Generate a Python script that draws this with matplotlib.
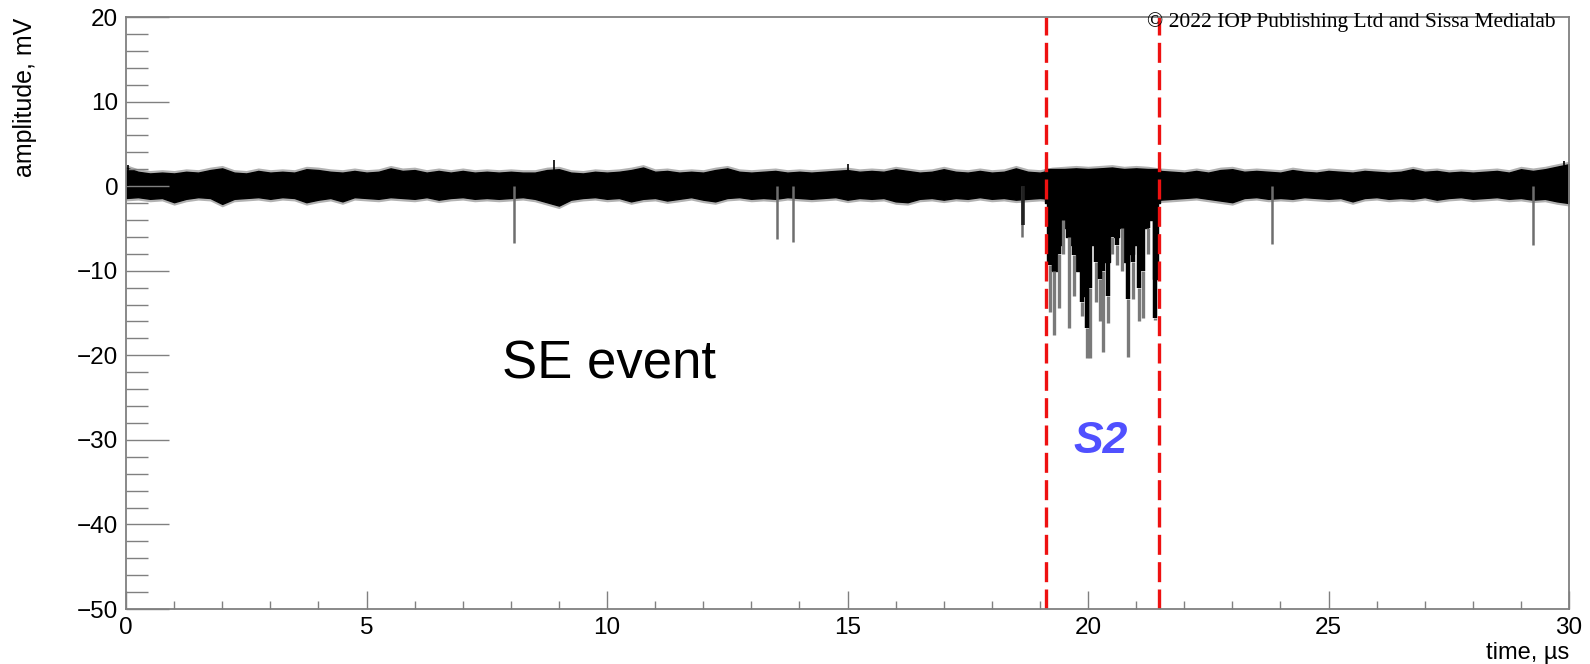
import numpy as np
import matplotlib
matplotlib.use("Agg")
from matplotlib import pyplot as plt

# noise band of the trace, read every 0.25 us (mV)
band_hi = [2.2, 1.7, 1.5, 1.6, 1.5, 1.7, 1.6, 1.9, 2.1, 1.6, 1.5, 1.8, 1.6, 1.7, 1.6, 2.0,
           1.9, 1.7, 1.6, 1.8, 1.6, 1.7, 2.1, 1.8, 1.9, 1.6, 1.8, 1.6, 1.8, 1.6, 1.7, 1.6,
           1.7, 1.6, 1.6, 1.9, 2.0, 1.6, 1.5, 1.7, 1.6, 1.7, 1.9, 2.2, 1.7, 1.8, 1.6, 1.7,
           1.6, 1.9, 2.1, 1.7, 1.6, 1.7, 1.8, 1.6, 1.7, 1.6, 1.7, 1.8, 1.9, 1.7, 1.8, 1.7,
           2.0, 1.8, 1.6, 1.7, 2.0, 1.7, 1.6, 1.8, 1.6, 1.7, 2.1, 1.7, 1.6, 1.9, 2.0, 2.1,
           2.0, 2.1, 2.2, 2.0, 2.1, 2.0, 1.8, 1.7, 1.6, 1.8, 1.6, 1.9, 2.0, 1.7, 1.8, 1.7,
           1.6, 1.9, 1.7, 1.6, 1.8, 1.7, 1.6, 1.8, 1.7, 1.6, 1.7, 2.0, 1.7, 1.8, 1.6, 1.7,
           1.6, 1.7, 1.8, 1.6, 2.0, 1.8, 2.0, 2.3, 2.6]
band_lo = [-1.4, -1.3, -1.5, -1.4, -1.9, -1.5, -1.3, -1.4, -2.1, -1.5, -1.4, -1.3, -1.5, -1.3, -1.4, -1.9,
           -1.6, -1.4, -1.8, -1.3, -1.4, -1.5, -1.3, -1.4, -1.5, -1.3, -1.6, -1.4, -1.3, -1.5, -1.4, -1.5,
           -1.4, -1.3, -1.5, -1.9, -2.3, -1.6, -1.4, -1.3, -1.5, -1.4, -1.8, -1.5, -1.4, -1.7, -1.5, -1.3,
           -1.6, -1.8, -1.4, -1.3, -1.5, -1.4, -1.5, -1.3, -1.4, -1.5, -1.4, -1.3, -1.6, -1.4, -1.5, -1.4,
           -1.8, -1.9, -1.5, -1.4, -1.6, -1.4, -1.5, -1.3, -1.5, -1.4, -1.6, -1.5, -1.4, -1.5, -1.5, -1.5,
           -1.5, -1.5, -1.5, -1.5, -1.5, -1.5, -1.6, -1.5, -1.4, -1.3, -1.5, -1.7, -1.9, -1.4, -1.3, -1.5,
           -1.4, -1.5, -1.3, -1.4, -1.5, -1.4, -1.8, -1.4, -1.3, -1.5, -1.4, -1.5, -1.3, -1.6, -1.4, -1.3,
           -1.5, -1.4, -1.3, -1.5, -1.4, -1.6, -1.5, -1.8, -2.0]
band_t = np.linspace(0, 30, len(band_hi))

# lower edge of the dense S2 pulse train, every 0.1 us from 19.1 to 21.5
s2_lo = [-2, -9, -10, -7, -5, -6, -7, -10, -13, -11, -7, -8, -9, -9, -5, -6,
         -5, -9, -8, -7, -9, -5, -4, -11, -2]
s2_t = np.linspace(19.1, 21.5, len(s2_lo))

# S2 single-electron spikes: time, depth of the dark part, depth of the tip
s2_spike_t = [19.21, 19.30, 19.40, 19.48, 19.61, 19.70, 19.87, 19.97, 20.04, 20.17, 20.25,
              20.32, 20.42, 20.50, 20.60, 20.70, 20.84, 20.94, 21.05, 21.14, 21.25, 21.39]
s2_spike_dark = [-9.3, -10, -8, -4, -6, -8.2, -13.7, -16.8, -12, -9, -11,
                 -10, -13, -6, -7, -5, -13.3, -9, -12.1, -10, -5, -15.6]
s2_spike_tip = [-14.9, -17.6, -14.4, -8, -16.8, -13, -15.3, -20.3, -20.3, -13.7, -16,
                -19.6, -16.2, -8, -9.3, -10, -20.2, -13.3, -16, -15.6, -8, -15.8]

# isolated pulses outside the window
spike_t = [8.07, 13.53, 13.86, 18.62, 23.82, 29.25]
spike_y = [-6.7, -6.2, -6.6, -6.0, -6.8, -7.0]
up_t = [0.05, 8.9, 15.0, 29.9]
up_y = [2.5, 3.1, 2.6, 3.0]

s2_window = [19.13, 21.47]

plt.rcParams['font.family'] = ['Liberation Sans', 'DejaVu Sans']
fig = plt.figure(figsize=(15.9, 6.64), dpi=100)
ax = fig.add_axes([126 / 1590, 55 / 664, 1443 / 1590, 592 / 664])

# soft fringe + solid core of the noise
ax.fill_between(band_t, np.array(band_lo) - 0.35, np.array(band_hi) + 0.35,
                color='black', alpha=0.3, lw=0)
ax.fill_between(band_t, band_lo, band_hi, color='black', lw=1.0)
ax.fill_between(s2_t, s2_lo, 2.0, color='black', lw=1.0, step='mid')
ax.vlines(spike_t, 0, spike_y, color='#6e6e6e', lw=1.8)
ax.vlines([18.64], 0, [-4.6], color='#222222', lw=2.6)
ax.vlines(up_t, 0, up_y, color='black', lw=1.2)
# grey tips below the dark body of each S2 pulse
ax.vlines(s2_spike_t, s2_spike_dark, s2_spike_tip, color='#7a7a7a', lw=2.4)
ax.vlines(s2_spike_t, 0, s2_spike_dark, color='black', lw=3.2)

for x in s2_window:
    ax.axvline(x, color='#ee1111', lw=2.4, dashes=(6, 2.2))

ax.text(7.82, -22.7, 'SE event', fontsize=38, ha='left', va='baseline')
ax.text(19.69, -31.6, 'S2', fontsize=32, fontweight='bold', fontstyle='italic',
        color='#5050ff', ha='left', va='baseline')

ax.set_xlim(0, 30)
ax.set_ylim(-50, 20)
ax.set_xticks([0, 5, 10, 15, 20, 25, 30])
ax.set_xticks(np.arange(0, 31, 1), minor=True)
ax.set_yticks([-50, -40, -30, -20, -10, 0, 10, 20])
ax.set_yticks(np.arange(-50, 21, 2), minor=True)
ax.tick_params(axis='both', which='both', direction='in', color='#808080', width=1.0,
               labelsize=17.5, pad=5.5)
ax.tick_params(axis='y', which='major', length=31)
ax.tick_params(axis='y', which='minor', length=16)
ax.tick_params(axis='x', which='major', length=13)
ax.tick_params(axis='x', which='minor', length=6)
for s in ax.spines.values():
    s.set_color('#808080')
    s.set_linewidth(1.3)

ax.set_xlabel('time, \u00b5s', fontsize=17, loc='right')
ax.xaxis.set_label_coords(1.0, -0.056)
ax.set_ylabel('amplitude, mV', fontsize=18, loc='top')
ax.yaxis.set_label_coords(-0.062, 0.998)

fig.text(1556 / 1590, 1 - 12 / 664, '\u00a9 2022 IOP Publishing Ltd and Sissa Medialab',
         family=['Liberation Serif', 'DejaVu Serif'], fontsize=15.5, ha='right', va='top')

fig.savefig('out.png', dpi=100)
